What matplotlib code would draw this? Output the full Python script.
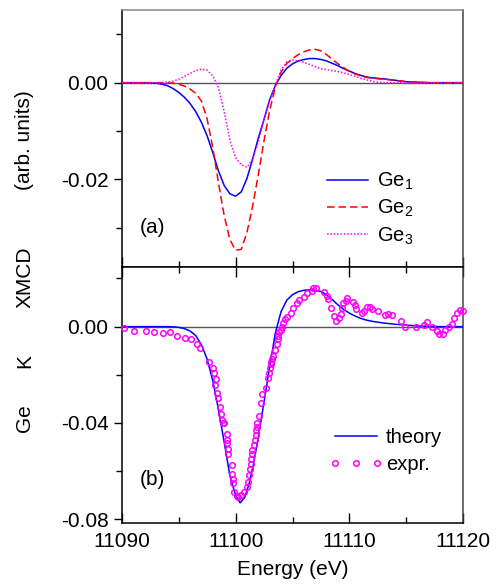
import matplotlib
matplotlib.use("Agg")
import matplotlib.pyplot as plt
from matplotlib.ticker import MultipleLocator, FormatStrFormatter
from matplotlib.legend_handler import HandlerLine2D
from matplotlib.lines import Line2D

plt.rcParams['font.family'] = ['Liberation Sans', 'DejaVu Sans']
plt.rcParams['mathtext.fontset'] = 'custom'
plt.rcParams['mathtext.rm'] = 'Liberation Sans'
plt.rcParams['mathtext.it'] = 'Liberation Sans'
plt.rcParams['axes.unicode_minus'] = False

# ---------------- data: panel (a) ----------------
e_ge1 = [11090, 11092, 11093.0, 11093.5, 11094.0, 11094.5, 11095.0, 11095.5, 11096.0, 11096.5,
         11097.0, 11097.5, 11098.0, 11098.5, 11099.0, 11099.5, 11100.0, 11100.5, 11101.0, 11101.5,
         11102.0, 11102.5, 11103.0, 11103.5, 11104.0, 11104.5, 11105.0, 11105.5, 11106.0, 11106.5,
         11107.0, 11107.5, 11108.0, 11108.5, 11109.0, 11109.5, 11110.0, 11110.5, 11111.0, 11111.5,
         11112.0, 11113.0, 11114.0, 11115.0, 11116.0, 11117.0, 11120]
v_ge1 = [0.0, 0.0, -0.0001, -0.0003, -0.0006, -0.0012, -0.0020, -0.0030, -0.0043, -0.0060,
         -0.0082, -0.0110, -0.0145, -0.0183, -0.0213, -0.0230, -0.0235, -0.0226, -0.0198, -0.0158,
         -0.0114, -0.0076, -0.0035, -0.0005, 0.0015, 0.0030, 0.0039, 0.0045, 0.0048, 0.0050,
         0.0050, 0.0048, 0.0045, 0.0040, 0.0035, 0.0029, 0.0024, 0.0019, 0.0015, 0.0012,
         0.0010, 0.0008, 0.0005, 0.0002, 0.0001, 0.0, 0.0]

e_ge2 = [11090, 11094.0, 11094.5, 11095.0, 11095.5, 11096.0, 11096.5, 11097.0, 11097.5, 11098.0,
         11098.5, 11099.0, 11099.5, 11100.0, 11100.5, 11101.0, 11101.5, 11102.0, 11102.5, 11103.0,
         11103.5, 11104.0, 11104.5, 11105.0, 11105.5, 11106.0, 11106.5, 11107.0, 11107.5, 11108.0,
         11108.5, 11109.0, 11109.5, 11110.0, 11110.5, 11111.0, 11111.5, 11112.0, 11113.0, 11114.0,
         11115.0, 11116.0, 11117.0, 11120]
v_ge2 = [0.0, 0.0, -0.0001, -0.0003, -0.0007, -0.0013, -0.0022, -0.0038, -0.0075, -0.0135,
         -0.0208, -0.0275, -0.0325, -0.0347, -0.0345, -0.0310, -0.0255, -0.0190, -0.0120, -0.0057,
         -0.0008, 0.0022, 0.0040, 0.0050, 0.0058, 0.0064, 0.0068, 0.0069, 0.0066, 0.0058,
         0.0048, 0.0039, 0.0031, 0.0023, 0.0018, 0.0014, 0.0011, 0.0009, 0.0007, 0.0005,
         0.0002, 0.0001, 0.0, 0.0]

e_ge3 = [11090, 11093.5, 11094.0, 11094.5, 11095.0, 11095.5, 11096.0, 11096.5, 11097.0, 11097.5,
         11098.0, 11098.5, 11099.0, 11099.5, 11100.0, 11100.5, 11101.0, 11101.5, 11102.0, 11102.5,
         11103.0, 11103.5, 11104.0, 11104.5, 11105.0, 11105.5, 11106.0, 11106.5, 11107.0, 11107.5,
         11108.0, 11108.5, 11109.0, 11109.5, 11110.0, 11110.5, 11111.0, 11111.5, 11112.0, 11112.5,
         11113.0, 11120]
v_ge3 = [0.0, 0.0, 0.0001, 0.0003, 0.0007, 0.0013, 0.0019, 0.0025, 0.0028, 0.0026,
         0.0014, -0.0010, -0.0060, -0.0119, -0.0155, -0.0170, -0.0175, -0.0158, -0.0122, -0.0075,
         -0.0036, -0.0005, 0.0027, 0.0043, 0.0047, 0.0045, 0.0042, 0.0038, 0.0033, 0.0029,
         0.0027, 0.0025, 0.0023, 0.0020, 0.0017, 0.0013, 0.0009, 0.0006, 0.0003, 0.0001,
         0.0, 0.0]

# ---------------- data: panel (b) ----------------
e_theory = [11090, 11094.0, 11094.5, 11095.0, 11095.5, 11096.0, 11096.5, 11097.0, 11097.5, 11098.0,
            11098.5, 11099.0, 11099.5, 11100.0, 11100.4, 11100.8, 11101.2, 11101.6, 11102.0, 11102.5,
            11103.0, 11103.5, 11104.0, 11104.5, 11105.0, 11105.5, 11106.0, 11106.5, 11107.0, 11107.5,
            11108.0, 11108.5, 11109.0, 11109.5, 11110.0, 11110.5, 11111.0, 11111.5, 11112.0, 11113.0,
            11114.0, 11115.0, 11116.0, 11117.0, 11118.0, 11120]
v_theory = [0.0, 0.0, -0.0001, -0.0003, -0.0008, -0.0018, -0.0037, -0.0075, -0.0135, -0.0225,
            -0.0345, -0.0480, -0.0620, -0.0700, -0.0732, -0.0710, -0.0650, -0.0565, -0.0458, -0.0312,
            -0.0165, -0.0025, 0.0063, 0.0110, 0.0133, 0.0145, 0.0151, 0.0153, 0.0151, 0.0146,
            0.0132, 0.0112, 0.0090, 0.0071, 0.0056, 0.0044, 0.0034, 0.0027, 0.0022, 0.0015,
            0.0010, 0.0006, 0.0003, 0.0001, 0.0, 0.0]

e_expr = [11090.23, 11091.08, 11092.11, 11092.84, 11093.60, 11094.27, 11094.86, 11095.53, 11096.06, 11096.58,
          11096.87, 11097.64, 11098.04, 11098.13, 11098.25, 11098.19, 11098.39, 11098.48, 11098.66, 11098.72,
          11098.78, 11098.89, 11098.98, 11099.22, 11099.24, 11099.27, 11099.31, 11099.31, 11099.68, 11099.71,
          11099.75, 11099.80, 11099.83, 11100.10, 11100.24, 11100.47, 11100.76, 11100.97, 11101.06, 11101.18,
          11101.26, 11101.33, 11101.33, 11101.41, 11101.47, 11101.62, 11101.70, 11101.76, 11101.79, 11101.85,
          11101.88, 11102.06, 11102.23, 11102.34, 11102.64, 11102.82, 11102.93, 11103.02, 11103.11, 11103.13,
          11103.22, 11103.31, 11103.49, 11103.61, 11103.70, 11103.70, 11103.84, 11103.99, 11104.10, 11104.19,
          11104.34, 11104.54, 11104.86, 11105.07, 11105.36, 11105.59, 11106.01, 11106.24, 11106.68, 11106.82,
          11107.06, 11107.76, 11108.05, 11108.14, 11108.38, 11108.64, 11108.81, 11109.08, 11109.25, 11109.32,
          11109.46, 11109.69, 11109.81, 11110.33, 11110.48, 11110.57, 11111.07, 11111.27, 11111.56, 11111.80,
          11111.95, 11112.53, 11113.12, 11113.41, 11113.71, 11114.50, 11114.87, 11115.84, 11116.54, 11116.83,
          11117.22, 11117.71, 11117.88, 11118.18, 11118.39, 11118.74, 11118.97, 11119.17, 11119.46, 11119.70,
          11119.99]
v_expr = [-0.0007, -0.0018, -0.0018, -0.0022, -0.0025, -0.0022, -0.0040, -0.0047, -0.0051, -0.0073,
          -0.0090, -0.0145, -0.0170, -0.0194, -0.0217, -0.0242, -0.0277, -0.0297, -0.0332, -0.0364,
          -0.0388, -0.0399, -0.0401, -0.0446, -0.0471, -0.0484, -0.0509, -0.0530, -0.0575, -0.0612,
          -0.0634, -0.0651, -0.0686, -0.0703, -0.0709, -0.0699, -0.0686, -0.0665, -0.0644, -0.0616,
          -0.0591, -0.0570, -0.0550, -0.0530, -0.0512, -0.0491, -0.0471, -0.0450, -0.0429, -0.0415,
          -0.0399, -0.0371, -0.0316, -0.0281, -0.0256, -0.0214, -0.0194, -0.0173, -0.0145, -0.0155,
          -0.0135, -0.0122, -0.0097, -0.0072, -0.0052, -0.0037, -0.0021, -0.0014, 0.0000, 0.0017,
          0.0031, 0.0042, 0.0058, 0.0076, 0.0097, 0.0111, 0.0125, 0.0139, 0.0150, 0.0162,
          0.0160, 0.0145, 0.0129, 0.0114, 0.0076, 0.0044, 0.0024, 0.0035, 0.0053, 0.0076,
          0.0097, 0.0108, 0.0120, 0.0101, 0.0090, 0.0072, 0.0056, 0.0065, 0.0081, 0.0081,
          0.0072, 0.0065, 0.0049, 0.0053, 0.0049, 0.0025, 0.0000, 0.0000, 0.0007, 0.0021,
          0.0000, -0.0018, -0.0030, -0.0030, -0.0014, 0.0000, 0.0011, 0.0035, 0.0058, 0.0069,
          0.0066]

labels_a = ['Ge$_1$', 'Ge$_2$', 'Ge$_3$']
labels_b = ['theory', 'expr.']

FS = 15
fig = plt.figure(figsize=(4.96, 5.85), dpi=100)
L, W = 0.2454, 0.6887
ax1 = fig.add_axes([L, 0.5441, W, 0.4388])
ax2 = fig.add_axes([L, 0.1055, W, 0.4386])

blue = '#0000ff'
red = '#ff0000'
mag = '#ff00ff'

for ax in (ax1, ax2):
    ax.axhline(0, color='#555555', lw=1.0, zorder=1)
    ax.set_xlim(11090, 11120)
    ax.xaxis.set_major_locator(MultipleLocator(10))
    ax.xaxis.set_minor_locator(MultipleLocator(5))
    ax.tick_params(axis='y', which='both', direction='out', left=True, right=False, labelsize=FS, width=1.0)
    ax.tick_params(axis='y', which='major', length=6)
    ax.tick_params(axis='y', which='minor', length=4.5)
    ax.tick_params(axis='x', which='both', direction='in', labelsize=FS, width=1.0)
    ax.tick_params(axis='x', which='major', length=7, pad=6)
    ax.tick_params(axis='x', which='minor', length=4)
    ax.yaxis.set_major_formatter(FormatStrFormatter('%.2f'))
    for s in ax.spines.values():
        s.set_linewidth(1.1)

ax1.spines['top'].set_color('#888888')
ax1.spines['right'].set_color('#444444')
ax2.spines['right'].set_color('#444444')

# panel (a)
ax1.plot(e_ge1, v_ge1, color=blue, lw=1.1, label=labels_a[0], zorder=3)
ax1.plot(e_ge2, v_ge2, color=red, lw=1.1, dashes=(5, 2.5), label=labels_a[1], zorder=3)
ax1.plot(e_ge3, v_ge3, color=mag, lw=1.1, dashes=(1, 1.2), label=labels_a[2], zorder=3)
ax1.set_ylim(-0.0381, 0.01505)
ax1.yaxis.set_major_locator(MultipleLocator(0.02))
ax1.yaxis.set_minor_locator(MultipleLocator(0.01))
ax1.tick_params(axis='x', which='both', bottom=True, top=False, labelbottom=False)
ax1.text(0.0515, 0.151, '(a)', transform=ax1.transAxes, fontsize=FS, ha='left', va='center')
ax1.legend(loc='upper left', bbox_to_anchor=(0.600, 0.374), frameon=False, fontsize=14.5,
           handlelength=2.05, handletextpad=0.45, labelspacing=0.3, borderpad=0, borderaxespad=0)

# panel (b)
ax2.plot(e_theory, v_theory, color=blue, lw=1.1, label=labels_b[0], zorder=3)
ax2.plot(e_expr, v_expr, linestyle='none', marker='o', markersize=4.0, markerfacecolor='none',
         markeredgecolor=mag, markeredgewidth=1.1, label=labels_b[1], zorder=4, clip_on=False)
ax2.set_ylim(-0.0817, 0.0249)
ax2.yaxis.set_major_locator(MultipleLocator(0.04))
ax2.yaxis.set_minor_locator(MultipleLocator(0.02))
ax2.tick_params(axis='x', which='both', bottom=True, top=True, labelbottom=True)
ax2.text(0.0515, 0.169, '(b)', transform=ax2.transAxes, fontsize=FS, ha='left', va='center')
ax2.legend(loc='upper left', bbox_to_anchor=(0.624, 0.372), frameon=False, fontsize=14.5,
           numpoints=3, handler_map={Line2D: HandlerLine2D(marker_pad=0)},
           handlelength=2.1, handletextpad=0.45, labelspacing=0.4, borderpad=0, borderaxespad=0)
ax2.set_xlabel('Energy (eV)', fontsize=FS, labelpad=7)

# y label spanning both panels
xl = 0.0504
fig.text(xl, 0.7607, '(arb. units)', rotation=90, ha='center', va='center', fontsize=FS)
fig.text(xl, 0.5265, 'XMCD', rotation=90, ha='center', va='center', fontsize=FS)
fig.text(xl, 0.3829, 'K', rotation=90, ha='center', va='center', fontsize=FS)
fig.text(xl, 0.2855, 'Ge', rotation=90, ha='center', va='center', fontsize=FS)

fig.savefig('out.png', dpi=100)
